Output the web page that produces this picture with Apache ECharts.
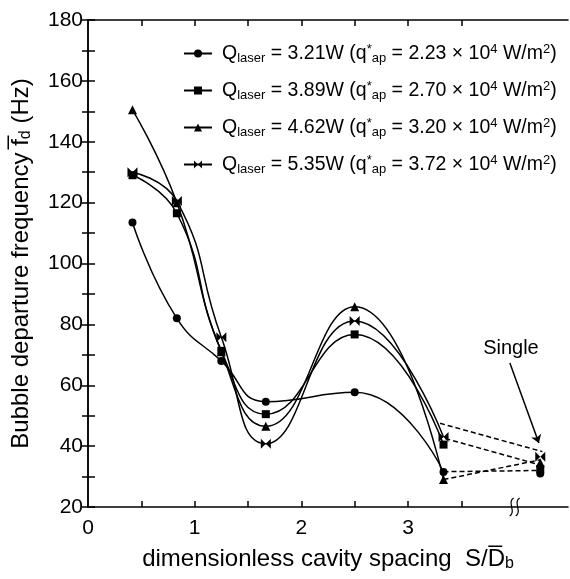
<!DOCTYPE html>
<html>
<head>
  <meta charset="utf-8">
  <script src="https://cdn.jsdelivr.net/npm/echarts@6/dist/echarts.min.js"></script>
  <style>
    html, body { margin: 0; padding: 0; background: #fff; }
    #chart { width: 570px; height: 579px; }
  </style>
</head>
<body>
  <div id="chart"></div>
  <script>
    // cavity spacing S/Db
    const spacing = [0.417, 0.833, 1.25, 1.667, 2.5, 3.333];
    const singleX = 4.24;

    const qLaser = ["3.21", "3.89", "4.62", "5.35"];
    const qAp = ["2.23", "2.70", "3.20", "3.72"];

    const fd321 = [113.5, 82, 68, 54.6, 57.7, 31.5];
    const fd389 = [129, 116.5, 71.3, 50.5, 76.7, 40.5];
    const fd462 = [150.5, 120, 71, 46.5, 85.8, 29];
    const fd535 = [130, 120.5, 75.8, 40.8, 81.1, 43];

    // single cavity values
    const singleFd = [31, 32.5, 34.5, 36.5];

    // dashed connectors to the single-cavity points
    const dashA = [[3.30, 47.5], [4.26, 38.2]];
    const dashB = [[3.35, 42.5], [4.24, 33.8]];
    const dashC = [[3.333, 31.6], [4.24, 32]];
    const dashD = [[3.333, 29], [4.24, 35.5]];

    const xLabels = [0, 1, 2, 3];
    const xTicks = [0.5, 1, 1.5, 2, 2.5, 3, 3.5];
    const yLabels = [20, 40, 60, 80, 100, 120, 140, 160, 180];
    const breakAt = [4.0, 20];

    const bowtie = "path://M0,0 L5,5 L0,10 Z M10,0 L5,5 L10,10 Z";
    const symbols = ["circle", "rect", "triangle", bowtie];
    const sizes = [8, 8, 9, 10];
    const seriesData = [fd321, fd389, fd462, fd535];
    const font = "Liberation Sans";

    const names = qLaser.map((q) => "Q" + q);

    const chart = echarts.init(document.getElementById("chart"));

    const mainSeries = seriesData.map((vals, i) => ({
      name: names[i],
      type: "line",
      smooth: 0.5,
      data: vals.map((v, j) => [spacing[j], v]),
      symbol: symbols[i],
      symbolSize: sizes[i],
      itemStyle: { color: "#000" },
      lineStyle: { color: "#000", width: 1.5 },
      z: 3,
    }));

    const singleSeries = singleFd.map((v, i) => ({
      type: "scatter",
      data: [[singleX, v]],
      symbol: symbols[i],
      symbolSize: sizes[i],
      itemStyle: { color: "#000", opacity: 1 },
      z: 4,
    }));

    const dashSeries = [dashA, dashB, dashC, dashD].map((d) => ({
      type: "line",
      data: d,
      symbol: "none",
      lineStyle: { color: "#000", width: 1.5, type: [5, 3] },
      z: 2,
    }));

    const option = {
      animation: false,
      grid: { left: 88, right: 2, top: 20, bottom: 72, outerBoundsMode: "none" },
      legend: {
        data: names,
        orient: "vertical",
        left: 178,
        top: 37,
        itemWidth: 28,
        itemHeight: 10,
        itemGap: 14,
        selectedMode: false,
        formatter: (name) => {
          const i = names.indexOf(name);
          return `{n|Q}{sub|laser}{n| = ${qLaser[i]}W (q}{sup|*}{sub|ap}{n| = ${qAp[i]} × 10}{sup|4}{n| W/m}{sup|2}{n|)}`;
        },
        textStyle: {
          padding: [0, 0, 0, 5],
          rich: {
            n: { fontSize: 19.5, fontFamily: font, color: "#000", lineHeight: 24 },
            sub: { fontSize: 13, fontFamily: font, color: "#000", lineHeight: 24, padding: [10, 0, 0, 0] },
            sup: { fontSize: 13, fontFamily: font, color: "#000", lineHeight: 24, padding: [0, 0, 9, 0] },
          },
        },
      },
      xAxis: [
        {
          type: "value",
          min: 0,
          max: 4.5,
          name: "{n|dimensionless cavity spacing  S/D\u0305}{sub|b}",
          nameLocation: "middle",
          nameGap: 37,
          nameTextStyle: {
            rich: {
              n: { fontSize: 24, fontFamily: font, color: "#000", lineHeight: 30 },
              sub: { fontSize: 16, fontFamily: font, color: "#000", lineHeight: 30, padding: [10, 0, 0, 0] },
            },
          },
          axisLine: { show: true, lineStyle: { color: "#000", width: 1.5 } },
          axisTick: { inside: true, length: 6, customValues: xTicks, lineStyle: { color: "#000", width: 1.5 } },
          axisLabel: { customValues: xLabels, fontSize: 21, fontFamily: font, color: "#000", margin: 11 },
          splitLine: { show: false },
        },
        {
          type: "value",
          position: "top",
          min: 0,
          max: 4.5,
          axisLine: { show: true, lineStyle: { color: "#000", width: 1.5 } },
          axisTick: { inside: true, length: 6, customValues: xTicks, lineStyle: { color: "#000", width: 1.5 } },
          axisLabel: { show: false },
          splitLine: { show: false },
        },
      ],
      yAxis: [
        {
          type: "value",
          min: 20,
          max: 180,
          interval: 10,
          name: "{n|Bubble departure frequency f\u0305}{sub|d}{n| (Hz)}",
          nameLocation: "middle",
          nameRotate: 90,
          nameGap: 52,
          nameTextStyle: {
            rich: {
              n: { fontSize: 24, fontFamily: font, color: "#000", lineHeight: 30 },
              sub: { fontSize: 16, fontFamily: font, color: "#000", lineHeight: 30, padding: [10, 0, 0, 0] },
            },
          },
          axisLine: { show: true, lineStyle: { color: "#000", width: 1.5 } },
          axisTick: { inside: true, length: 7, lineStyle: { color: "#000", width: 1.5 } },
          axisLabel: { customValues: yLabels, fontSize: 21, fontFamily: font, color: "#000", margin: 5 },
          splitLine: { show: false },
        },
        {
          type: "value",
          position: "right",
          min: 20,
          max: 180,
          interval: 10,
          axisLine: { show: true, lineStyle: { color: "#000", width: 1.5 } },
          axisTick: { inside: true, length: 6, lineStyle: { color: "#000", width: 1.5 } },
          axisLabel: { show: false },
          splitLine: { show: false },
        },
      ],
      series: [
        ...mainSeries,
        ...dashSeries,
        ...singleSeries,
        {
          type: "scatter",
          data: [[3.965, 72.2]],
          symbolSize: 0,
          itemStyle: { opacity: 1 },
          label: {
            show: true,
            position: "inside",
            formatter: "Single",
            fontSize: 20,
            fontFamily: font,
            color: "#000",
          },
          markLine: {
            silent: true,
            symbol: ["none", "arrow"],
            symbolSize: 8,
            label: { show: false },
            lineStyle: { color: "#000", width: 1.5, type: "solid", opacity: 1 },
            itemStyle: { color: "#000", opacity: 1 },
            data: [[{ coord: [3.955, 67.3] }, { coord: [4.227, 41] }]],
          },
        },
        {
          type: "custom",
          data: [breakAt],
          z: 5,
          renderItem: (params, api) => {
            const p = api.coord([api.value(0), api.value(1)]);
            const wave = (dx) => ({
              type: "bezierCurve",
              shape: {
                x1: p[0] + dx + 2, y1: p[1] - 9,
                cpx1: p[0] + dx - 5, cpy1: p[1] - 5,
                cpx2: p[0] + dx + 5, cpy2: p[1] + 5,
                x2: p[0] + dx - 2, y2: p[1] + 9,
              },
              style: { stroke: "#000", fill: null, lineWidth: 1.2 },
            });
            return { type: "group", children: [wave(-3), wave(3)] };
          },
        },
      ],
    };

    chart.setOption(option);
  </script>
</body>
</html>
